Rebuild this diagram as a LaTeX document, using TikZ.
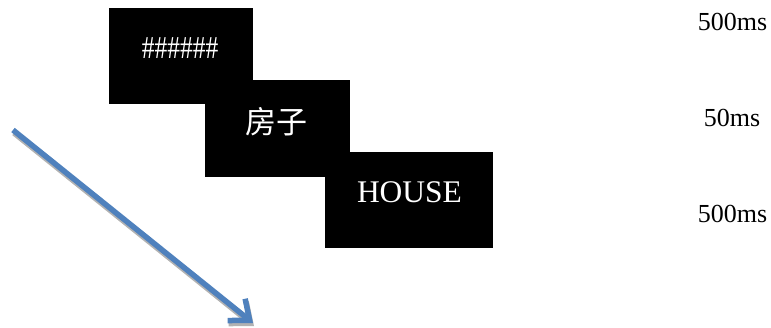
\documentclass[tikz,border=0pt]{standalone}
\usepackage{fontspec}
\usepackage{graphicx}
\setmainfont{Liberation Serif}
\newfontfamily\cjkfont{Noto Sans CJK SC}
\usetikzlibrary{arrows.meta}
\definecolor{officeblue}{HTML}{4F81BD}
\tikzset{
  blackbox/.style={draw=none, fill=black, minimum width=#1, inner sep=0pt},
  boxtext/.style={text=white, inner sep=0pt, anchor=base},
  timelabel/.style={text=black, inner sep=0pt, anchor=base, font=\fontsize{26}{30}\selectfont},
  timearrow/.style={line width=5.5pt, -{Straight Barb[length=17pt,width=28pt]}},
}
\begin{document}
\begin{tikzpicture}[x=1pt,y=1pt]
\useasboundingbox (0,0) rectangle (771,-327);
% boxes
\node[blackbox=144pt, minimum height=96pt] (b1) at (181,-56) {};
\node[blackbox=145pt, minimum height=97pt] (b2) at (277.5,-128.5) {};
\node[blackbox=168pt, minimum height=96pt] (b3) at (409,-200) {};
% texts in boxes
\node[boxtext, font=\fontsize{25.5}{30}\selectfont] (t1) at (180,-58) {\scalebox{1}[1.25]{\#\#\#\#\#\#}};
\node[boxtext, font=\cjkfont\fontsize{31}{36}\selectfont] (t2) at (276,-133) {房子};
\node[boxtext, font=\fontsize{31.5}{36}\selectfont] (t3) at (409.5,-202) {HOUSE};
% time labels
\node[timelabel] (l1) at (732.5,-30) {500ms};
\node[timelabel] (l2) at (732,-126) {50ms};
\node[timelabel] (l3) at (732.5,-222) {500ms};
% arrow
\coordinate (as) at (13,-130);
\coordinate (ae) at (253,-323);
\draw[timearrow, draw=black!30, transform canvas={shift={(1pt,-3pt)}}] (as) -- (ae);
\draw[timearrow, draw=officeblue] (as) -- (ae);
\end{tikzpicture}
\end{document}
